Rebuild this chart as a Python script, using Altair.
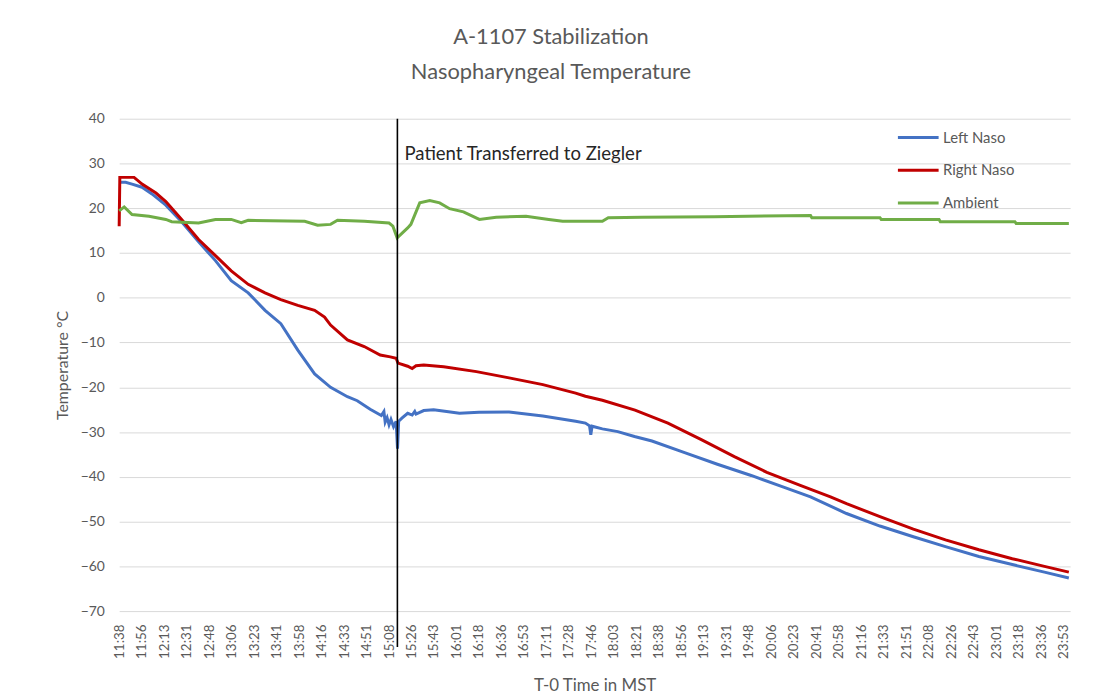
import altair as alt
import pandas as pd

# ---- data (minutes after 11:38:30) ----
tick_labels = ["11:38", "11:56", "12:13", "12:31", "12:48", "13:06", "13:23", "13:41", "13:58",
               "14:16", "14:33", "14:51", "15:08", "15:26", "15:43", "16:01", "16:18", "16:36",
               "16:53", "17:11", "17:28", "17:46", "18:03", "18:21", "18:38", "18:56", "19:13",
               "19:31", "19:48", "20:06", "20:23", "20:41", "20:58", "21:16", "21:33", "21:51",
               "22:08", "22:26", "22:43", "23:01", "23:18", "23:36", "23:53"]
tick_step = 17.5

left_t = [0, 5, 10, 17.8, 25.5, 36.3, 48.6, 61.8, 74.9, 87.2, 100.4, 113.5, 125.8, 139, 152.1,
          164.5, 177.6, 185.3, 195.3, 204, 206, 207, 208.5, 210, 211.5, 213.5, 215.5, 216.6, 217.5,
          220, 224.5, 228, 230, 231, 237, 244.7, 254.8, 264.8, 280, 303.4, 329.7, 355.2, 362.8,
          366, 367, 368, 376, 388, 401, 414.6, 440, 465.5, 491.8, 517, 538, 566, 592, 618, 643,
          669, 695, 720, 739]
left_v = [25.8, 25.8, 25.4, 24.7, 23.2, 20.7, 17.0, 12.5, 8.3, 3.8, 1.1, -2.8, -5.8, -11.7, -17.0,
          -20.0, -22.1, -23.0, -24.9, -26.3, -25.4, -27.8, -26.8, -28.4, -27.2, -28.8, -27.6, -33.7,
          -27.6, -26.9, -25.8, -26.2, -25.4, -26.0, -25.2, -25.0, -25.4, -25.8, -25.6, -25.5, -26.4,
          -27.6, -28.0, -28.6, -30.6, -28.7, -29.3, -29.9, -31.0, -32.0, -34.6, -37.2, -39.7, -42.3,
          -44.5, -48.2, -51.0, -53.4, -55.6, -57.8, -59.6, -61.3, -62.6]

right_t = [0, 0.5, 11.6, 17.8, 28.6, 36.3, 48.6, 61.8, 74.9, 87.2, 100.4, 113.5, 125.8, 139, 152.1,
           159.8, 164.5, 177.6, 190.7, 203.1, 211, 215.5, 217, 224.5, 228, 231, 237, 252.5, 278,
           303.4, 329.7, 355.2, 362.8, 376, 401.4, 427, 453, 478.7, 504, 530, 553.5, 566, 592, 618,
           643, 669, 695, 720, 739]
right_v = [16.0, 26.9, 26.9, 25.4, 23.4, 21.5, 17.5, 13.0, 9.4, 6.0, 3.0, 1.1, -0.4, -1.7, -2.8,
           -4.3, -6.1, -9.4, -10.9, -12.8, -13.2, -13.5, -14.6, -15.3, -15.8, -15.2, -15.0, -15.4,
           -16.5, -17.9, -19.4, -21.3, -22.0, -22.9, -25.1, -28.0, -31.7, -35.5, -39.0, -41.9,
           -44.5, -46.0, -48.9, -51.7, -54.1, -56.3, -58.3, -60.0, -61.3]

amb_t = [0, 3.9, 10, 23.2, 36.3, 40.9, 61.8, 74.9, 87.2, 95, 100.4, 144.4, 154.4, 164.5, 169.9,
         190.7, 210, 213, 216.3, 224.5, 227, 233.9, 241.7, 249.4, 257.1, 267.9, 280.3, 293.4,
         316.6, 334.3, 345.1, 376, 380.6, 406.9, 463, 538, 539, 592, 593, 638, 639, 697, 698, 739]
amb_v = [19.4, 20.3, 18.6, 18.2, 17.5, 17.0, 16.7, 17.5, 17.5, 16.8, 17.3, 17.1, 16.2, 16.4, 17.3,
         17.1, 16.7, 16.0, 13.4, 15.6, 16.4, 21.2, 21.7, 21.2, 19.9, 19.2, 17.5, 18.0, 18.2, 17.5,
         17.1, 17.1, 17.9, 18.0, 18.1, 18.4, 17.9, 17.9, 17.5, 17.5, 17.0, 17.0, 16.6, 16.6]

series = ["Left Naso", "Right Naso", "Ambient"]
colors = ["#4472C4", "#C00000", "#70AD47"]

event_t = [216.5]
event_y = [40]
event_y2 = [-78]
event_label = ["Patient Transferred to Ziegler"]
event_label_t = [222]
event_label_y = [32.0]

# ---- build table ----
rows = []
for name, ts, vs in zip(series, [left_t, right_t, amb_t], [left_v, right_v, amb_v]):
    for i, (t, v) in enumerate(zip(ts, vs)):
        rows.append({"series": name, "t": t, "temp": v, "idx": i})
df = pd.DataFrame(rows)

label_arr = "[" + ",".join("'" + s + "'" for s in tick_labels) + "]"
FONT = "Lato"
GRAY = "#595959"

x_scale = alt.Scale(domain=[0, 740], nice=False, zero=False)
y_scale = alt.Scale(domain=[-70, 40], nice=False, zero=False)

lines = alt.Chart(df).mark_line(strokeWidth=3).encode(
    x=alt.X("t:Q", scale=x_scale,
            axis=alt.Axis(values=[i * tick_step for i in range(len(tick_labels))],
                          tickCount=100,
                          labelExpr=label_arr + "[round(datum.value/" + str(tick_step) + ")]",
                          labelAngle=270, labelOverlap=False, labelFontSize=13.5,
                          labelColor=GRAY, labelFont=FONT, labelPadding=13,
                          ticks=False, domain=False, grid=False,
                          title="T-0 Time in MST", titleFont=FONT, titleFontSize=17,
                          titleColor=GRAY, titleFontWeight="normal", titlePadding=19)),
    y=alt.Y("temp:Q", scale=y_scale,
            axis=alt.Axis(values=list(range(-70, 41, 10)), labelFontSize=14, labelColor=GRAY,
                          labelFont=FONT, labelPadding=15, ticks=False, domain=False,
                          gridColor="#D9D9D9", gridWidth=1,
                          title="Temperature °C", titleFont=FONT, titleFontSize=16,
                          titleColor=GRAY, titleFontWeight="normal", titlePadding=10)),
    color=alt.Color("series:N", scale=alt.Scale(domain=series, range=colors),
                    legend=alt.Legend(title=None, orient="none", legendX=783, legendY=-3,
                                      symbolType="stroke", symbolSize=1681,
                                      symbolStrokeWidth=3, labelFont=FONT, labelFontSize=15,
                                      labelColor=GRAY, labelOffset=3, rowPadding=3,
                                      padding=0)),
    order=alt.Order("idx:Q"),
)

ev = pd.DataFrame({"t": event_t, "y": event_y, "y2": event_y2})
rule = alt.Chart(ev).mark_rule(color="black", strokeWidth=1.6).encode(
    x=alt.X("t:Q", scale=x_scale), y=alt.Y("y:Q", scale=y_scale), y2="y2:Q")

evl = pd.DataFrame({"t": event_label_t, "y": event_label_y, "label": event_label})
label = alt.Chart(evl).mark_text(align="left", baseline="middle", font=FONT, fontSize=18.7,
                                 color="#262626").encode(
    x=alt.X("t:Q", scale=x_scale), y=alt.Y("y:Q", scale=y_scale), text="label:N")

chart = alt.layer(lines, rule, label).properties(
    width=958, height=496,
    autosize=alt.AutoSizeParams(type="none"),
    padding={"left": 112, "top": 109, "right": 18, "bottom": 84},
    title=alt.TitleParams(text=["A-1107 Stabilization", "Nasopharyngeal Temperature"],
                          font=FONT, fontSize=22, fontWeight="normal", color=GRAY,
                          anchor="middle", dx=-44, offset=28, lineHeight=35),
).configure_view(stroke=None)

chart.save("out.html", embed_options={"renderer": "svg", "actions": False})
